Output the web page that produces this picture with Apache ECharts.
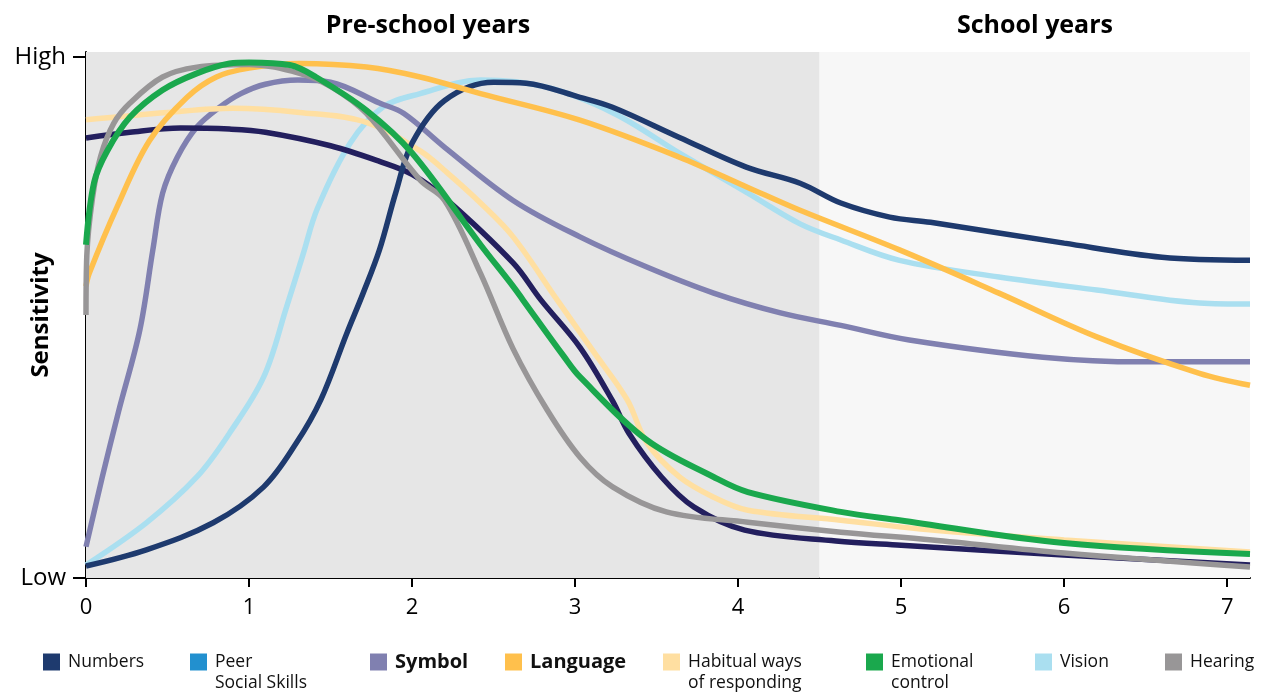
<!DOCTYPE html>
<html>
<head>
<meta charset="utf-8">
<script src="https://cdn.jsdelivr.net/npm/echarts@6/dist/echarts.min.js"></script>
<style>
  html, body { margin: 0; padding: 0; background: #fff; }
  #chart { width: 1269px; height: 692px; }
</style>
</head>
<body>
<div id="chart"></div>
<script>
// age in years -> sensitivity (0 = Low, 100 = High)
var numbers = [[0,2.3],[0.37,5.4],[0.78,10.6],[1.09,17.5],[1.29,25.9],[1.44,34.2],[1.6,47],[1.7,54.7],[1.8,63],[1.9,74],[2.0,83.5],[2.2,91.7],[2.5,95.2],[2.7,95],[3.03,92.3],[3.23,90.4],[3.64,84.6],[4.05,78.9],[4.38,75.8],[4.63,72],[4.93,69.3],[5.18,68.3],[6.0,64.3],[6.6,61.6],[7.14,61]];
var peer = [[0,84.5],[0.27,85.6],[0.58,86.4],[0.88,86.2],[1.1,85.6],[1.5,83],[1.8,80],[2.0,77.5],[2.2,73],[2.62,60.5],[2.79,53.4],[3.03,44.3],[3.23,34],[3.33,27.8],[3.53,19.4],[3.73,13.6],[4.04,9.2],[4.6,7.1],[5.0,6.3],[6.0,4.4],[7.14,2.5]];
var symbol = [[0,6],[0.1,19.4],[0.2,32],[0.33,47.6],[0.41,63],[0.47,73.9],[0.56,80.8],[0.68,86.6],[0.82,90.4],[0.95,93],[1.1,94.8],[1.3,95.6],[1.5,95.2],[1.8,91.2],[1.95,89.2],[2.2,82.7],[2.62,72.5],[3.03,65.5],[3.44,59.7],[3.85,54.7],[4.26,50.9],[4.63,48.5],[5.05,45.7],[5.87,42.4],[6.48,41.5],[7.14,41.5]];
var language = [[0,56],[0.02,58.5],[0.19,71.2],[0.39,84],[0.62,92.3],[0.8,96.2],[1.0,97.9],[1.31,98.8],[1.72,98.1],[2.05,96.2],[2.42,93],[3.03,87.9],[3.64,80.8],[4.06,75],[4.38,70.6],[4.99,63],[5.6,54.7],[6.2,46.3],[6.83,39.3],[7.14,37]];
var habitual = [[0,88],[0.5,89.4],[0.9,90.2],[1.31,89.4],[1.72,87.5],[2.05,82],[2.22,77.7],[2.42,72],[2.62,65.5],[2.89,53.4],[3.11,43.6],[3.32,34.2],[3.44,26],[3.64,19.4],[3.85,15.5],[4.06,13],[4.63,11.1],[5.19,9.2],[6.0,7.3],[7.14,5]];
var emotional = [[0,64],[0.05,76],[0.13,82],[0.27,88.5],[0.47,93.7],[0.68,96.9],[0.88,98.8],[1.0,99],[1.25,98.5],[1.41,96.2],[1.72,89.8],[2.0,81.6],[2.42,64],[2.62,56],[2.68,53.4],[2.93,42.6],[3.03,38.6],[3.44,26.5],[3.85,19.4],[4.06,16.5],[4.63,12.7],[4.99,11.1],[6.0,6.7],[7.14,4.6]];
var vision = [[0,2.5],[0.37,10.6],[0.68,19.4],[0.88,27.8],[1.09,38.6],[1.23,52],[1.33,62],[1.42,71],[1.62,83.5],[1.82,90.4],[2.05,93],[2.42,95.6],[2.83,94.2],[3.24,89.2],[3.64,81.6],[4.06,73.9],[4.38,68],[4.63,64.9],[4.99,61],[5.6,57.8],[6.2,55.3],[6.83,52.8],[7.14,52.6]];
var hearing = [[0,50.5],[0.005,62],[0.04,73],[0.09,81],[0.17,87.3],[0.27,91.2],[0.47,96.2],[0.68,98.1],[1.0,98.6],[1.31,96.9],[1.51,94.2],[1.72,89.2],[2.05,76.4],[2.2,72.5],[2.42,58.5],[2.62,44],[2.83,32.2],[3.03,23.2],[3.23,17.5],[3.56,12.7],[4.06,10.7],[4.63,8.8],[5.19,7.3],[6.0,4.8],[7.14,2.1]];

var seriesNames = ['Numbers', 'Peer Social Skills', 'Symbol', 'Language', 'Habitual ways of responding', 'Emotional control', 'Vision', 'Hearing'];
var legendFirstLine = ['Numbers', 'Peer', 'Symbol', 'Language', 'Habitual ways', 'Emotional', 'Vision', 'Hearing'];
var legendSecondLine = ['', 'Social Skills', '', '', 'of responding', 'control', '', ''];
var seriesData = [numbers, peer, symbol, language, habitual, emotional, vision, hearing];
var lineColors = ['#1e3a6e', '#231f5e', '#8080b0', '#ffc04c', '#ffdfa1', '#1aa84d', '#aadff0', '#989697'];
var legendColors = ['#1e3a6e', '#2290cf', '#8080b0', '#ffc04c', '#ffdfa1', '#1aa84d', '#aadff0', '#989697'];
var drawOrder = [6, 5, 3, 8, 4, 10, 2, 9];
var legendLeft = [43, 190, 370, 505, 663, 866, 1035, 1165];
var legendBold = [false, false, true, true, false, false, false, false];
var xTicks = [0, 1, 2, 3, 4, 5, 6, 7];
var schoolStart = 4.5;

var chart = echarts.init(document.getElementById('chart'));
var font = '"Open Sans", "Noto Sans", sans-serif';

var series = [{
    type: 'line',
    data: [],
    silent: true,
    z: 0,
    markArea: {
        silent: true,
        itemStyle: { opacity: 1 },
        data: [
            [{ xAxis: 0, yAxis: 0, itemStyle: { color: '#e6e6e6' } }, { xAxis: schoolStart, yAxis: 101 }],
            [{ xAxis: schoolStart, yAxis: 0, itemStyle: { color: '#f7f7f7' } }, { xAxis: 7.14, yAxis: 101 }]
        ]
    }
}];
seriesData.forEach(function(d, i) {
    series.push({
        name: seriesNames[i],
        type: 'line',
        data: d,
        smooth: 0.35,
        showSymbol: false,
        silent: true,
        z: drawOrder[i],
        color: legendColors[i],
        lineStyle: { color: lineColors[i], width: i === 5 ? 6 : 5.5 }
    });
});

var legends = seriesNames.map(function(n, i) {
    return {
        data: [{ name: n, itemStyle: { color: legendColors[i] } }],
        left: legendLeft[i],
        top: 652,
        padding: 0,
        icon: 'rect',
        itemWidth: 17,
        itemHeight: 17,
        selectedMode: false,
        formatter: function() { return legendFirstLine[i]; },
        textStyle: {
            fontFamily: font,
            fontSize: legendBold[i] ? 20 : 17.5,
            fontWeight: legendBold[i] ? 'bold' : 'normal',
            color: '#111',
            lineHeight: 20,
            padding: [0, 0, 0, 3]
        }
    };
});

var graphics = [
    { type: 'text', x: 428, y: 26, style: { text: 'Pre-school years', font: 'bold 25px ' + font, fill: '#000', textAlign: 'center', textVerticalAlign: 'middle' } },
    { type: 'text', x: 1035, y: 26, style: { text: 'School years', font: 'bold 25px ' + font, fill: '#000', textAlign: 'center', textVerticalAlign: 'middle' } }
];
legendSecondLine.forEach(function(t, i) {
    if (!t) return;
    graphics.push({ type: 'text', x: legendLeft[i] + 25, y: 683, style: { text: t, font: '17.5px ' + font, fill: '#111', textVerticalAlign: 'middle' } });
});

chart.setOption({
    animation: false,
    grid: { left: 86, right: 19, top: 52, bottom: 114, outerBoundsMode: 'none' },
    graphic: graphics,
    legend: legends,
    xAxis: {
        type: 'value',
        min: 0,
        max: 7.14,
        interval: 1,
        splitLine: { show: false },
        axisLine: { show: true, onZero: false, lineStyle: { color: '#000', width: 2 } },
        axisTick: { show: true, length: 9, customValues: xTicks, lineStyle: { color: '#000', width: 2 } },
        axisLabel: { customValues: xTicks, margin: 19, fontFamily: font, fontSize: 22, color: '#000' }
    },
    yAxis: {
        type: 'value',
        min: 0,
        max: 101,
        name: 'Sensitivity',
        nameLocation: 'middle',
        nameGap: 33,
        nameRotate: 90,
        nameMoveOverlap: false,
        nameTextStyle: { fontFamily: font, fontSize: 24, fontWeight: 'bold', color: '#000' },
        splitLine: { show: false },
        axisLine: { show: true, lineStyle: { color: '#000', width: 2 } },
        axisTick: { show: true, length: 13, customValues: [0, 100], lineStyle: { color: '#000', width: 2 } },
        axisLabel: {
            customValues: [0, 100],
            margin: 20,
            fontFamily: font,
            fontSize: 24,
            color: '#000',
            formatter: function(v) { return v === 100 ? 'High' : (v === 0 ? 'Low' : ''); }
        }
    },
    series: series
});
</script>
</body>
</html>
